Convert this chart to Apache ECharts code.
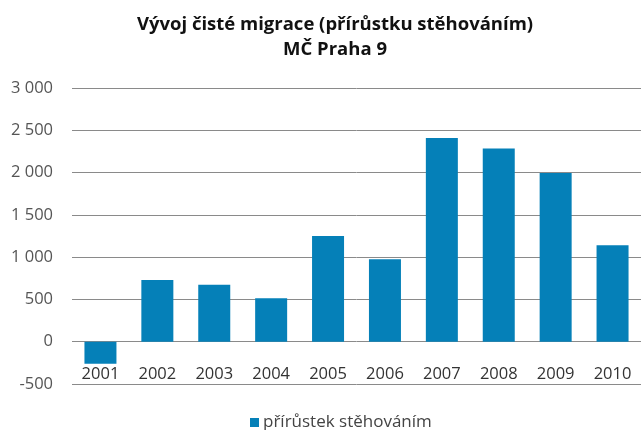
<!DOCTYPE html>
<html>
<head>
<meta charset="utf-8">
<script src="https://cdn.jsdelivr.net/npm/echarts@6/dist/echarts.min.js"></script>
<style>
html,body{margin:0;padding:0;background:#fff;}
#chart{width:641px;height:430px;}
</style>
</head>
<body>
<div id="chart"></div>
<script>
const categories = ['2001','2002','2003','2004','2005','2006','2007','2008','2009','2010'];
const values = [-260, 730, 675, 515, 1250, 975, 2410, 2285, 1995, 1140];
const seriesName = 'přírůstek stěhováním';
const titleText = 'Vývoj čisté migrace (přírůstku stěhováním)\nMČ Praha 9';

const chart = echarts.init(document.getElementById('chart'));
chart.setOption({
  animation: false,
  backgroundColor: '#fff',
  textStyle: { fontFamily: 'Open Sans' },
  title: {
    text: titleText,
    left: 330,
    textAlign: 'center',
    top: 7,
    textStyle: { fontFamily: 'Open Sans', fontSize: 18.5, fontWeight: 'bold', color: '#111', lineHeight: 25 }
  },
  legend: {
    bottom: -6,
    left: 245,
    itemWidth: 9, itemHeight: 9, itemGap: 10,
    icon: 'rect',
    data: [seriesName],
    textStyle: { fontFamily: 'Open Sans', fontSize: 17, color: '#444', padding: [0, 0, 0, -1] }
  },
  grid: { left: 72, right: 0, top: 88, bottom: 46, containLabel: false },
  xAxis: {
    type: 'category',
    data: categories,
    axisLine: { show: false, onZero: false },
    axisTick: { show: false },
    axisLabel: { margin: -18, fontFamily: 'Open Sans', fontSize: 16.5, color: '#333' }
  },
  yAxis: {
    type: 'value',
    min: -500, max: 3000, interval: 500,
    axisLine: { show: false },
    axisTick: { show: false },
    splitLine: { lineStyle: { color: '#8a8a8a', width: 1 } },
    axisLabel: {
      margin: 19,
      fontFamily: 'Open Sans', fontSize: 16.5, color: '#555',
      formatter: v => {
        const s = String(Math.abs(v));
        const f = s.length > 3 ? s.slice(0, s.length - 3) + ' ' + s.slice(-3) : s;
        return (v < 0 ? '-' : '') + f;
      }
    }
  },
  series: [{
    name: seriesName,
    type: 'bar',
    data: values,
    barWidth: 32,
    itemStyle: { color: '#0580b8' }
  }]
});
</script>
</body>
</html>
